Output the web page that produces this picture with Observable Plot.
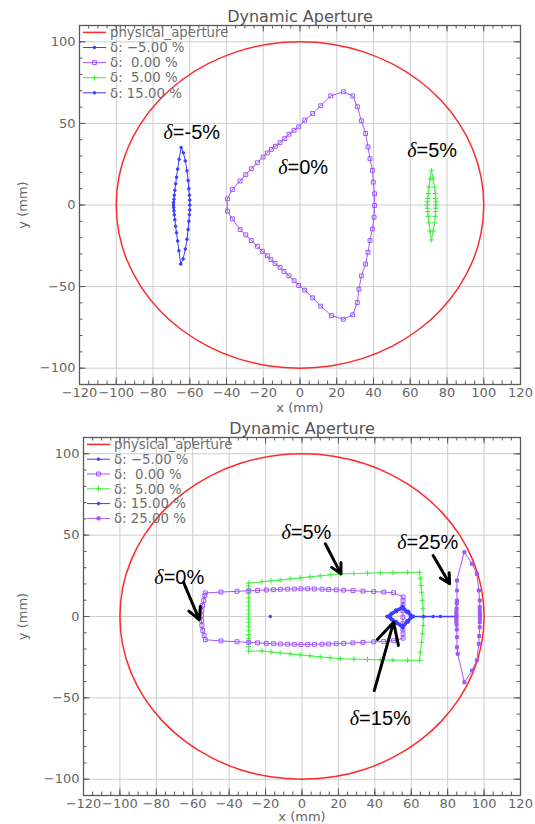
<!DOCTYPE html>
<html><head><meta charset="utf-8">
<script src="https://cdn.jsdelivr.net/npm/d3@7"></script>
<script src="https://cdn.jsdelivr.net/npm/@observablehq/plot@0.6"></script>
<style>body{margin:0;background:#fff;} svg{display:block;}</style>
</head><body><div id="chart"></div>
<script>
// ---------- data ----------
const titleText = "Dynamic Aperture";
const xTickLabels = [-120,-100,-80,-60,-40,-20,0,20,40,60,80,100,120];
const yTickLabels = [-100,-50,0,50,100];
const xGrid = [-100,-80,-60,-40,-20,0,20,40,60,80,100];
const yGrid = [-100,-50,0,50,100];
const xMinor = d3.range(-120, 121, 5);
const yMinor = d3.range(-110, 111, 10);

// physical aperture (circle of radius 100 mm), read every 10 degrees
const aperture = [[100,0],[98.5,17.4],[94.0,34.2],[86.6,50.0],[76.6,64.3],[64.3,76.6],[50.0,86.6],[34.2,94.0],[17.4,98.5],[0,100],
[-17.4,98.5],[-34.2,94.0],[-50.0,86.6],[-64.3,76.6],[-76.6,64.3],[-86.6,50.0],[-94.0,34.2],[-98.5,17.4],[-100,0],
[-98.5,-17.4],[-94.0,-34.2],[-86.6,-50.0],[-76.6,-64.3],[-64.3,-76.6],[-50.0,-86.6],[-34.2,-94.0],[-17.4,-98.5],[0,-100],
[17.4,-98.5],[34.2,-94.0],[50.0,-86.6],[64.3,-76.6],[76.6,-64.3],[86.6,-50.0],[94.0,-34.2],[98.5,-17.4]];

// panel 1
const p1_m5 = [[-64.7,35.2],[-65.8,28],[-66.6,22],[-67.2,17],[-67.7,13],[-68.1,9],[-68.4,6],[-68.6,3.5],[-68.8,1.5],[-68.9,0],[-68.8,-1.5],[-68.6,-3.5],[-68.4,-6],[-68.1,-9],[-67.7,-13],[-67.2,-17],[-66.6,-22],[-65.9,-28],[-64.9,-36.2],[-63.6,-33],[-62.4,-27],[-61.5,-21],[-60.9,-15],[-60.5,-10],[-60.2,-6],[-60.0,-3],[-60.0,0],[-60.0,3],[-60.2,6],[-60.5,10],[-60.9,15],[-61.5,21],[-62.4,27],[-63.5,32]];
const p1_0 = [[-39.5,3.8],[-36.8,9.5],[-32.6,14.7],[-29.5,18.6],[-26.5,22.2],[-23.2,25.9],[-20.1,29.4],[-17.8,31.9],[-15.6,34.1],[-13.4,36.0],[-10.9,38.2],[-8.3,40.7],[-6.0,43.4],[-3.2,45.8],[-0.7,47.9],[2.6,52.0],[6.9,56.1],[11.3,60.8],[16.7,66.9],[23.6,69.4],[28.7,66.9],[31.2,60.2],[33.4,51.6],[35.7,43.8],[37.0,35.6],[38.1,28.4],[39.4,21.2],[39.9,14.0],[40.6,6.9],[40.6,-0.3],[40.3,-7.5],[39.4,-14.7],[38.1,-21.8],[37.0,-29.0],[35.7,-36.2],[33.4,-43.4],[32.1,-51.6],[31.2,-59.8],[28.7,-67.3],[23.6,-70.0],[17.2,-67.8],[11.3,-62.0],[6.9,-56.9],[2.6,-52.2],[-0.7,-49.3],[-3.2,-46.4],[-6.0,-43.4],[-8.7,-40.7],[-10.9,-38.2],[-13.6,-35.8],[-15.8,-33.5],[-17.8,-31.1],[-20.5,-28.4],[-23.2,-25.3],[-26.5,-21.8],[-29.5,-18.3],[-32.6,-15.1],[-36.8,-8.5],[-39.5,-3.8]];
const p1_5 = [[71.5,21],[70.8,16],[70.2,11],[69.8,7],[69.5,4],[69.3,2],[69.3,0],[69.3,-2],[69.5,-4],[69.8,-7],[70.2,-11],[70.8,-16],[71.5,-21.4],[72.5,-16],[73.2,-11],[73.6,-7],[73.8,-4],[73.9,-2],[73.9,0],[73.9,2],[73.8,4],[73.6,7],[73.2,11],[72.5,16]];

// panel 2
const p2_m5 = [[-17.4,0]];
const p2_0 = [[-53.1,14.5],[-44.5,15.0],[-35.7,15.5],[-29.3,15.8],[-24.4,16.0],[-19.6,16.3],[-15.6,16.5],[-11.9,16.7],[-7.9,16.8],[-4.2,16.9],[-0.6,17.0],[3.1,17.0],[6.8,16.9],[11.0,16.8],[14.6,16.6],[18.8,16.4],[22.9,16.2],[28.0,15.9],[33.5,15.6],[39.4,15.3],[44.9,15.0],[50.3,14.6],[55.5,12.0],
[55.5,9.8],[55.4,6.8],[55.4,3.7],[55.4,-0.4],[55.4,-4.5],[55.4,-7.6],[55.5,-10.6],[55.5,-13.3],
[50.3,-14.9],[44.9,-15.3],[39.4,-15.6],[33.5,-15.9],[28.0,-16.2],[22.9,-16.5],[18.8,-16.7],[14.6,-16.9],[11.0,-17.0],[6.8,-17.1],[3.1,-17.2],[-0.6,-17.2],[-4.2,-17.1],[-7.9,-17.0],[-11.9,-16.9],[-15.6,-16.7],[-19.6,-16.5],[-24.4,-16.2],[-29.3,-15.9],[-35.7,-15.5],[-44.5,-15.0],[-53.1,-14.3],
[-53.8,-11.7],[-54.5,-8.6],[-55.0,-5.5],[-55.2,-2.5],[-55.2,0.6],[-55.0,3.7],[-54.6,6.8],[-54.0,9.8],[-53.4,12.9]];
const p2_5 = [[-29.3,20.5],[-22,21.3],[-17,21.9],[-12,22.4],[-6.5,23.1],[-1,23.7],[4.5,24.4],[10,25.0],[15.5,25.6],[21,26.2],[28.5,26.4],[36,26.6],[43,26.8],[50,26.9],[58,27.1],[64.6,27.2],
[65.0,23.2],[65.4,19.1],[65.7,14.9],[66.1,9.8],[66.5,4.7],[66.5,-0.4],[66.5,-5.5],[66.1,-10.6],[65.7,-15.8],[65.0,-21.9],[64.6,-27.0],
[58,-26.9],[50,-26.8],[43,-26.6],[36,-26.4],[28.5,-26.2],[21,-26.0],[15.5,-25.4],[10,-24.8],[4.5,-24.2],[-1,-23.6],[-6.5,-23.0],[-12,-22.4],[-17,-21.8],[-22,-21.2],[-29.3,-21.3],
[-29.3,-18.5],[-29.3,-16],[-29.3,-13.5],[-29.3,-11],[-29.3,-8.5],[-29.3,-6],[-29.3,-3.5],[-29.3,-1],[-29.3,1.5],[-29.3,4],[-29.3,6.5],[-29.3,9],[-29.3,11.5],[-29.3,14],[-29.3,16.5],[-29.3,18.7]];
const p2_15 = [[46.7,0],[49,2],[51.5,4],[55.3,6.3],[58.3,3.2],[61.3,0],[58.3,-3.4],[55.3,-7.0],[51.5,-4.2],[49,-2],[46.7,0],
[47.5,0],[51.5,3.4],[55.3,5.5],[58,2.8],[60.5,0],[58,-3],[55.3,-6.2],[51.5,-3.6],[47.5,0],
[48.3,0],[51.8,3],[55.3,4.8],[57.6,2.4],[59.7,0],[57.6,-2.6],[55.3,-5.5],[51.8,-3.1],[48.3,0],[52,3.1],[55.3,5.9],[58.6,2.9],[61.3,0],
[66.8,0],[72,0],[76,0],[84.8,0]];
const p2_25 = [[89.2,39.5],[93.4,32.4],[96.0,26.2],[97.1,16.0],[97.6,9.8],[97.6,5.7],[97.6,3.5],[97.7,1.5],[97.7,0],[97.7,-1.5],[97.6,-3.5],[97.6,-6.6],[97.3,-12],[97.1,-16.8],[96.0,-27],[93.4,-33.2],[89.2,-40.4],
[85.5,-22.9],[85.1,-18.9],[85.1,-12.7],[85.0,-8],[84.9,-5],[84.8,-3],[84.8,-1.5],[84.8,0],[84.8,1.5],[84.8,3],[84.9,5],[85.0,8],[85.1,9.8],[85.1,16.0],[85.1,22.1]];

const legend1 = ["physical_aperture","δ: \u22125.00 %","δ:  0.00 %","δ:  5.00 %","δ: 15.00 %"];
const legend2 = ["physical_aperture","δ: \u22125.00 %","δ:  0.00 %","δ:  5.00 %","δ: 15.00 %","δ: 25.00 %"];
const annot1 = [{x:-58.9,y:44.6,t:"δ=-5%"},{x:1.7,y:22.8,t:"δ=0%"},{x:71.9,y:33.5,t:"δ=5%"}];
const annot2 = [{x:-67.4,y:24.0,t:"δ=0%"},{x:2.4,y:51.6,t:"δ=5%"},{x:69.1,y:45.2,t:"δ=25%"},{x:43.0,y:-62.7,t:"δ=15%"}];
const arrows2 = [[-65.1,21.1,-56.4,-2.0],[12.8,44.7,21.4,26.2],[72.0,37.5,81.1,20.1],[39.7,-45.5,50.3,-3.5]];

// ---------- styles ----------
const RED = "#ff2a2a", BLUE = "#3d3dff", PURPLE = "#a057ff", GREEN = "#3fee3f";
const FRAME = "#5a5a5a", GRID = "#cdcdcd", TXT = "#666";
const sty = {
  m5: {color: BLUE, symbol: "circle", r: 1.3, filled: true},
  z: {color: PURPLE, symbol: "square", r: 2.2, filled: false},
  p5: {color: GREEN, symbol: "plus", r: 1.9, filled: false},
  p15: {color: BLUE, symbol: "circle", r: 1.3, filled: true},
  p25: {color: PURPLE, symbol: "square", r: 1.7, filled: true}
};

function makePanel(cfg) {
  const W = 535, H = cfg.H;
  const {ml, mr, mt, mb} = cfg;
  const fh = H - mt - mb, fw = W - ml - mr;
  const X = d => d[0], Y = d => d[1];
  const marks = [
    Plot.ruleX(xGrid, {stroke: GRID, strokeWidth: 1}),
    Plot.ruleY(yGrid, {stroke: GRID, strokeWidth: 1}),
    Plot.line(aperture, {x: X, y: Y, stroke: RED, strokeWidth: 1.5, curve: "catmull-rom-closed"})
  ];
  for (const s of cfg.series) {
    const st = sty[s.key];
    marks.push(Plot.line(s.data, {x: X, y: Y, stroke: st.color, strokeWidth: s.width || 1, curve: s.closed ? "linear-closed" : "linear"}));
    marks.push(Plot.dot(s.data, {x: X, y: Y, symbol: st.symbol, r: st.r,
      stroke: st.color, strokeWidth: 1, fill: st.filled ? st.color : "none"}));
  }
  if (cfg.arrows) marks.push(Plot.arrow(cfg.arrows, {x1: d=>d[0], y1: d=>d[1], x2: d=>d[2], y2: d=>d[3], stroke: "black", strokeWidth: 3, headLength: 13, headAngle: 55}));
  marks.push(Plot.text(cfg.annots, {x: "x", y: "y", text: "t", fontSize: 20, fill: "black", fontFamily: "Liberation Sans, Arial, sans-serif"}));
  // ticks (inward, all four sides)
  marks.push(
    Plot.ruleX(xMinor, {insetTop: fh - 3.5, stroke: FRAME}),
    Plot.ruleX(xMinor, {insetBottom: fh - 3.5, stroke: FRAME}),
    Plot.ruleX(xTickLabels, {insetTop: fh - 6.5, stroke: FRAME}),
    Plot.ruleX(xTickLabels, {insetBottom: fh - 6.5, stroke: FRAME}),
    Plot.ruleY(yMinor, {insetRight: fw - 3.5, stroke: FRAME}),
    Plot.ruleY(yMinor, {insetLeft: fw - 3.5, stroke: FRAME}),
    Plot.ruleY(yTickLabels, {insetRight: fw - 6.5, stroke: FRAME}),
    Plot.ruleY(yTickLabels, {insetLeft: fw - 6.5, stroke: FRAME}),
    Plot.frame({stroke: FRAME, strokeWidth: 1.3}),
    Plot.axisX({ticks: xTickLabels, tickSize: 0, tickPadding: 3, label: null, fontSize: 13, fill: TXT}),
    Plot.axisY({ticks: yTickLabels, tickSize: 0, tickPadding: 4, label: null, fontSize: 13, fill: TXT}),
    Plot.text(["x (mm)"], {frameAnchor: "bottom", lineAnchor: "middle", dy: cfg.xlabDy, text: d => d, fontSize: 13, fill: TXT}),
    Plot.text(["y (mm)"], {frameAnchor: "left", textAnchor: "middle", lineAnchor: "middle", dx: cfg.ylabDx, rotate: -90, text: d => d, fontSize: 13, fill: TXT}),
    Plot.text([titleText], {frameAnchor: "top", lineAnchor: "middle", dy: -8.5, text: d => d, fontSize: 16, fill: "#555"})
  );
  const svg = Plot.plot({
    width: W, height: H,
    marginLeft: ml, marginRight: mr, marginTop: mt, marginBottom: mb,
    x: {domain: [-120, 120], label: null},
    y: {domain: [-110, 110], label: null},
    style: {fontFamily: "DejaVu Sans, sans-serif", fontSize: "13px", color: TXT, background: "white"},
    marks
  });
  // legend (inside top-left of the frame)
  const g = d3.select(svg).append("g").attr("font-family", "DejaVu Sans, sans-serif").attr("font-size", 13.3)
    .attr("fill", "#6e6e6e").attr("text-anchor", "start");
  cfg.legend.forEach((lab, i) => {
    const y = mt + 7.4 + i * cfg.legStep;
    const color = i === 0 ? RED : sty[cfg.legKeys[i - 1]].color;
    g.append("line").attr("x1", ml + 4).attr("x2", ml + 27).attr("y1", y).attr("y2", y).attr("stroke", color).attr("stroke-width", i === 0 ? 1.5 : 1);
    if (i > 0) {
      const st = sty[cfg.legKeys[i - 1]];
      const sym = d3.symbol(st.symbol === "square" ? d3.symbolSquare : st.symbol === "plus" ? d3.symbolPlus : d3.symbolCircle, Math.PI * st.r * st.r)();
      g.append("path").attr("d", sym).attr("transform", `translate(${ml + 15.5},${y})`)
        .attr("stroke", st.color).attr("fill", st.filled ? st.color : "none");
    }
    g.append("text").attr("x", ml + 31).attr("y", y).attr("dy", "0.36em").attr("text-anchor", "start")
      .style("white-space", "pre").text(lab);
  });
  // italic delta in annotations
  d3.select(svg).selectAll("text").each(function() {
    const t = this.textContent;
    if (t.startsWith("δ=")) {
      const el = d3.select(this);
      el.text("");
      el.append("tspan").attr("font-family", "Liberation Serif, serif").attr("font-style", "italic").text("δ");
      el.append("tspan").text(t.slice(1));
    }
  });
  return svg;
}

const chart = document.getElementById("chart");
chart.append(makePanel({
  H: 416, ml: 79, mr: 15, mt: 25, mb: 32, ylabDx: -57, xlabDy: 23, legStep: 15.1,
  legend: legend1, legKeys: ["m5", "z", "p5", "p15"],
  series: [
    {key: "m5", data: p1_m5, closed: true},
    {key: "z", data: p1_0, closed: true},
    {key: "p5", data: p1_5, closed: true}
  ],
  annots: annot1
}));
chart.append(makePanel({
  H: 408, ml: 83, mr: 15, mt: 21, mb: 29, ylabDx: -61, xlabDy: 21.5, legStep: 14.8,
  legend: legend2, legKeys: ["m5", "z", "p5", "p15", "p25"],
  series: [
    {key: "p5", data: p2_5, closed: true},
    {key: "z", data: p2_0, closed: true},
    {key: "m5", data: p2_m5, closed: false},
    {key: "p15", data: p2_15, closed: false, width: 1.6},
    {key: "p25", data: p2_25, closed: true}
  ],
  annots: annot2, arrows: arrows2
}));
</script>
</body></html>
